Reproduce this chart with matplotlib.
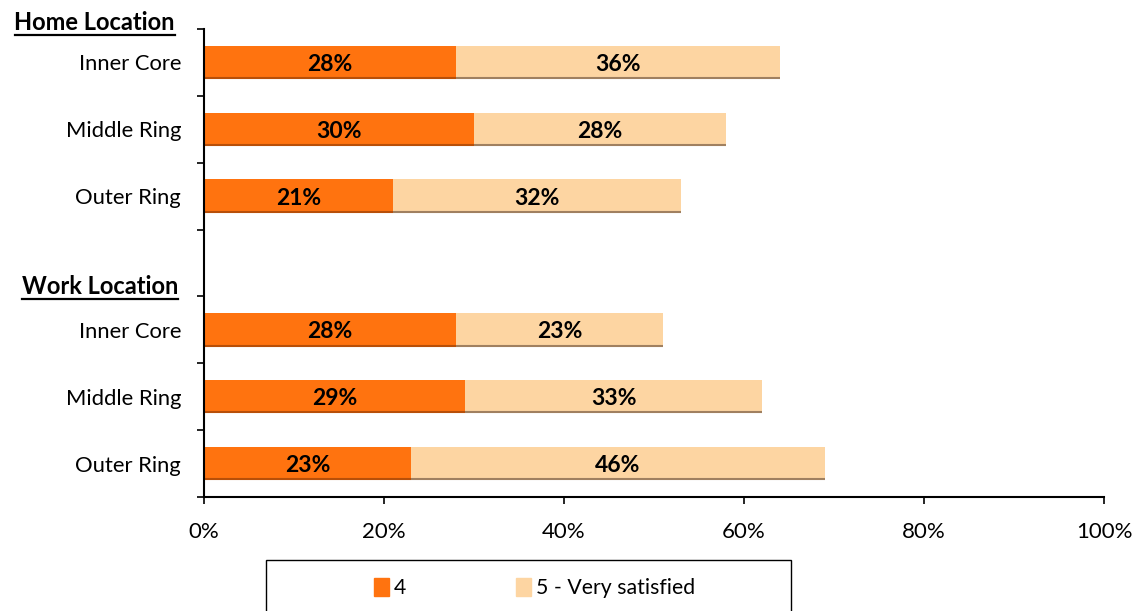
import matplotlib.pyplot as plt
import matplotlib.patches as mpatches
import numpy as np

plt.rcParams['font.family'] = ['Lato', 'DejaVu Sans']

categories = ['Inner Core', 'Middle Ring', 'Outer Ring', '',
              'Inner Core', 'Middle Ring', 'Outer Ring']
groups = ['Home Location', 'Work Location']
sat4 = [28, 30, 21, None, 28, 29, 23]
sat5 = [36, 28, 32, None, 23, 33, 46]
series_names = ['4', '5 - Very satisfied']

c4 = '#FF730F'
c5 = '#FDD5A2'
W, H = 1134, 611

fig = plt.figure(figsize=(11.34, 6.11), dpi=100)
ax = fig.add_axes([0.1799, 0.1866, 0.7937, 0.7660])

y = np.arange(len(categories))
h = 0.5
for i, (a, b) in enumerate(zip(sat4, sat5)):
    if a is None:
        continue
    ax.barh(y[i], a, h, color=c4, edgecolor='none')
    ax.barh(y[i], b, h, left=a, color=c5, edgecolor='none')
    # darker bottom rim like the original 3D look
    ax.plot([0, a], [y[i] + h / 2 - 0.015] * 2, color='#B84F08', lw=1.5, solid_capstyle='butt')
    ax.plot([a, a + b], [y[i] + h / 2 - 0.015] * 2, color='#A08060', lw=1.5, solid_capstyle='butt')
    ax.text(a / 2, y[i] + 0.03, f'{a}%', ha='center', va='center',
            fontsize=16.5, fontweight='bold', color='black')
    ax.text(a + b / 2, y[i] + 0.03, f'{b}%', ha='center', va='center',
            fontsize=16.5, fontweight='bold', color='black')

ax.set_xlim(0, 100)
ax.set_ylim(len(categories) - 0.5, -0.5)
ax.set_xticks(np.arange(0, 101, 20))
ax.set_xticklabels([f'{v}%' for v in range(0, 101, 20)], fontsize=16)
ax.set_yticks(y)
ax.set_yticklabels(categories, fontsize=15.8)
ax.set_yticks(np.arange(-0.5, len(categories), 1), minor=True)
ax.tick_params(axis='y', which='major', length=0, pad=16.5)
ax.tick_params(axis='y', which='minor', length=5, width=1.2, direction='out')
ax.tick_params(axis='x', length=5, width=1.2, pad=13)

for s in ['top', 'right']:
    ax.spines[s].set_visible(False)
for s in ['left', 'bottom']:
    ax.spines[s].set_linewidth(1.5)

# group headers, underlined
t1 = fig.text(175 / W, 1 - 23 / H, groups[0], ha='right', va='center',
              fontsize=17, fontweight='bold')
t2 = fig.text(178 / W, 1 - 287 / H, groups[1], ha='right', va='center',
              fontsize=17, fontweight='bold')
fig.canvas.draw()
r = fig.canvas.get_renderer()
for t, uy in [(t1, 35), (t2, 299)]:
    bb = t.get_window_extent(r)
    fig.add_artist(plt.Line2D([bb.x0 / W, bb.x1 / W], [1 - uy / H] * 2,
                              color='black', lw=1.6))

# legend box
fig.add_artist(mpatches.Rectangle((266 / W, -0.05), 525 / W, 0.05 + 51 / H,
                                  transform=fig.transFigure, fill=False,
                                  edgecolor='black', lw=1.0))
handles = [mpatches.Patch(color=c4), mpatches.Patch(color=c5)]
fig.legend(handles, series_names, loc='center left', ncol=2, frameon=False,
           bbox_to_anchor=(359 / W, 1 - 588 / H), fontsize=15.3,
           handlelength=0.72, handleheight=0.9, handletextpad=0.2,
           columnspacing=5.2, borderpad=0.2)

plt.savefig('out.png', dpi=100)
